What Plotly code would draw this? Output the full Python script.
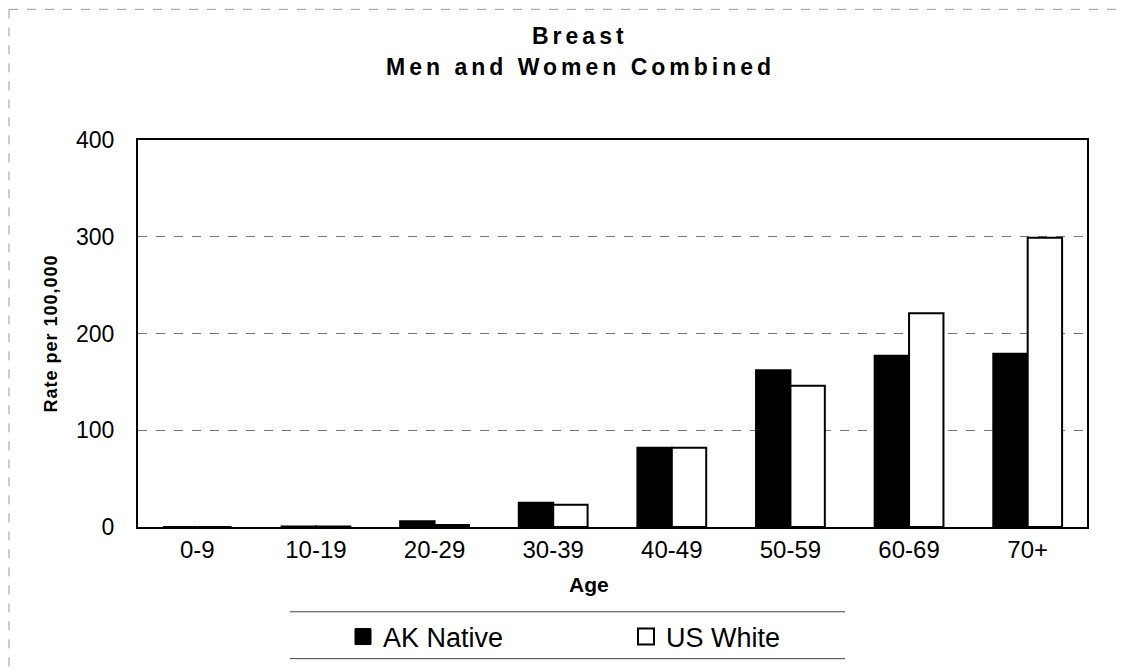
import plotly.graph_objects as go

ages = ["0-9", "10-19", "20-29", "30-39", "40-49", "50-59", "60-69", "70+"]
ak_native = [0, 0.5, 6, 25, 82, 162, 177, 179]
us_white = [0, 0.5, 2, 23, 82, 146, 221, 299]
series_names = ["AK Native", "US White"]
title_lines = ["Breast", "Men and Women Combined"]

FONT = "Liberation Sans, Arial, sans-serif"

# page offset (body margin) is 8px; figure sized to fit the window
W, H = 1124, 664
PL, PR, PT, PB = 138 - 8, 1087 - 8, 140 - 8, 528 - 8   # plot box in figure px
pw, ph = PR - PL, PB - PT

def px(xp):  # page-x pixel -> paper
    return (xp - 8 - PL) / pw

def py(yp):  # page-y pixel -> paper
    return (PB - (yp - 8)) / ph

fig = go.Figure()
fig.add_trace(go.Bar(x=ages, y=ak_native, name=series_names[0], showlegend=False,
                     marker=dict(color="black", line=dict(color="black", width=2))))
fig.add_trace(go.Bar(x=ages, y=us_white, name=series_names[1], showlegend=False,
                     marker=dict(color="white", line=dict(color="black", width=2))))
# legend keys (large squares like the original)
fig.add_trace(go.Scatter(x=[None], y=[None], mode="markers", name=series_names[0],
                         marker=dict(symbol="square", size=18, color="black",
                                     line=dict(color="black", width=1))))
fig.add_trace(go.Scatter(x=[None], y=[None], mode="markers", name=series_names[1],
                         marker=dict(symbol="square", size=18, color="white",
                                     line=dict(color="black", width=2))))

fig.update_layout(
    width=W, height=H,
    margin=dict(l=PL, r=W - PR, t=PT, b=H - PB),
    paper_bgcolor="white", plot_bgcolor="white",
    barmode="group", bargap=0.42, bargroupgap=0,
    font=dict(family=FONT, color="black"),
    xaxis=dict(type="category", tickfont=dict(size=24), showline=True, linecolor="black",
               linewidth=2, mirror=True, ticks="", showgrid=False),
    yaxis=dict(title=dict(text="<b><span style='letter-spacing:1px'>Rate per 100,000</span></b>",
                          font=dict(size=18), standoff=14),
               range=[0, 400], dtick=100, tickfont=dict(size=23),
               showline=True, linecolor="black", linewidth=2, mirror=True,
               showgrid=True, gridcolor="#777777", griddash="dash", gridwidth=1,
               ticks="", ticklabelstandoff=17, zeroline=False),
    legend=dict(orientation="h", x=px(343), xanchor="left", y=py(637), yanchor="middle",
                font=dict(size=27), bgcolor="rgba(0,0,0,0)", itemsizing="trace",
                traceorder="normal", entrywidthmode="pixels", entrywidth=238),
    showlegend=True,
)

# two-line bold title, letter-spaced like the original
for txt, yy in zip(title_lines, (36, 67)):
    fig.add_annotation(text=f"<b><span style='letter-spacing:4px'>{txt}</span></b>",
                       xref="paper", yref="paper", x=px(580), y=py(yy), xanchor="center",
                       yanchor="middle", showarrow=False, font=dict(size=23, family=FONT))

# x-axis title placed like the original (slightly left of centre)
fig.add_annotation(text="<b>Age</b>", xref="paper", yref="paper", x=px(589), y=py(586),
                   xanchor="center", yanchor="middle", showarrow=False,
                   font=dict(size=21, family=FONT))

# legend top/bottom rules
for yy in (613, 660):
    fig.add_shape(type="line", xref="paper", yref="paper", x0=px(290), x1=px(845),
                  y0=py(yy), y1=py(yy), line=dict(color="#444444", width=1))
# outer frame (top and left edges, broken grey line)
fig.add_shape(type="line", xref="paper", yref="paper", x0=px(9), x1=px(1130),
              y0=py(9), y1=py(9), line=dict(color="#999999", width=1, dash="dash"))
fig.add_shape(type="line", xref="paper", yref="paper", x0=px(9), x1=px(9),
              y0=py(9), y1=py(671), line=dict(color="#999999", width=1, dash="dash"))

fig.write_html("out.html")
